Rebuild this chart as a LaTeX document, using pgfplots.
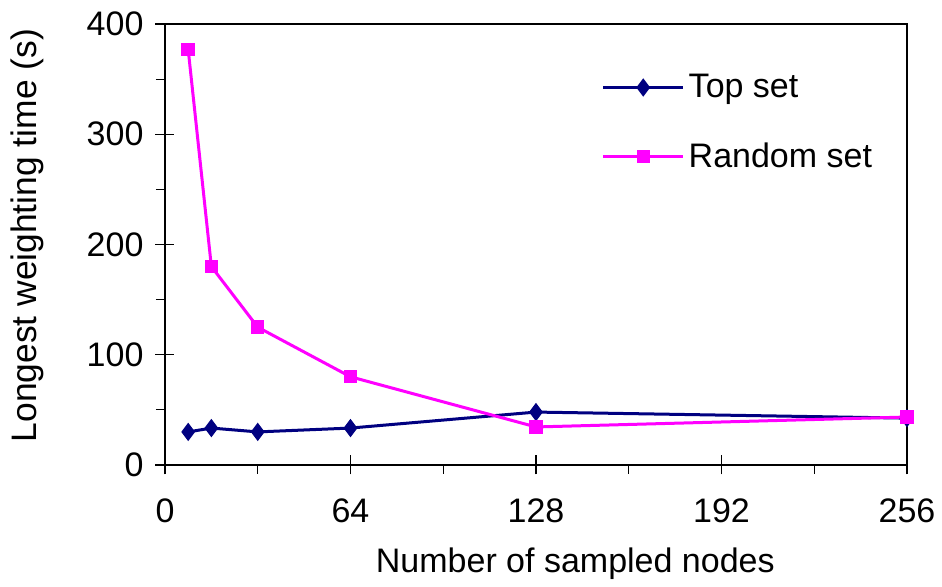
\documentclass[border=0pt]{standalone}
\usepackage{pgfplots}
\pgfplotsset{compat=1.18}
\usepackage{fontspec}
\setmainfont{Liberation Sans}
\definecolor{navy}{RGB}{0,0,128}
\definecolor{mag}{RGB}{255,0,255}
\begin{document}
\begin{tikzpicture}
\path (-82.5pt,-56.5pt) rectangle (388.5pt,232.5pt);
\begin{axis}[
  scale only axis,
  width=371pt, height=220.5pt,
  xmin=0, xmax=256, ymin=0, ymax=400,
  xtick={0,64,128,192,256},
  ytick={0,100,200,300,400},
  minor xtick={32,96,160,224},
  minor ytick={50,150,250,350},
  tick pos=left,
  tick align=outside,
  major tick length=4.75pt,
  minor tick length=4.5pt,
  tick style={black, line width=0.6pt},
  extra x ticks={0,64,128,192,256},
  extra y ticks={0,100,200,300,400},
  extra x tick labels={},
  extra y tick labels={},
  extra x tick style={tick align=inside},
  extra y tick style={tick align=inside},
  axis line style={black, line width=0.9pt},
  /pgf/number format/assume math mode=true,
  tick label style={font=\fontsize{17}{20}\selectfont},
  xticklabel style={yshift=-8.5pt},
  yticklabel style={xshift=-2.5pt},
  label style={font=\fontsize{17}{20}\selectfont},
  xlabel={Number of sampled nodes},
  ylabel={Longest weighting time (s)},
  xlabel style={at={(axis description cs:0.553,0)}, anchor=north, yshift=-38pt},
  ylabel style={at={(axis description cs:0,0.52)}, yshift=57pt, font=\fontsize{17.7}{20}\selectfont},
  legend style={draw=none, fill=none, at={(axis description cs:0.58,0.905)}, anchor=north west,
    font=\fontsize{17}{20}\selectfont, row sep=17pt},
  legend cell align=left,
  legend image code/.code={\draw[#1, mark repeat=2, mark phase=2] plot coordinates {(0pt,0pt) (20pt,0pt) (40pt,0pt)};},
  clip=false,
]
\addplot[navy, line width=1.5pt, mark=diamond*, mark size=4.2pt, mark options={solid, fill=navy, draw=navy, line width=0.5pt}]
  coordinates {(8,30) (16,33.5) (32,30) (64,33.5) (128,48) (256,42.5)};
\addlegendentry{Top set}
\addplot[mag, line width=1.5pt, mark=square*, mark size=3.1pt, mark options={solid, fill=mag, draw=mag, line width=0.5pt}]
  coordinates {(8,377) (16,180) (32,125) (64,80) (128,34.5) (256,43.5)};
\addlegendentry{Random set}
\end{axis}
\end{tikzpicture}
\end{document}
